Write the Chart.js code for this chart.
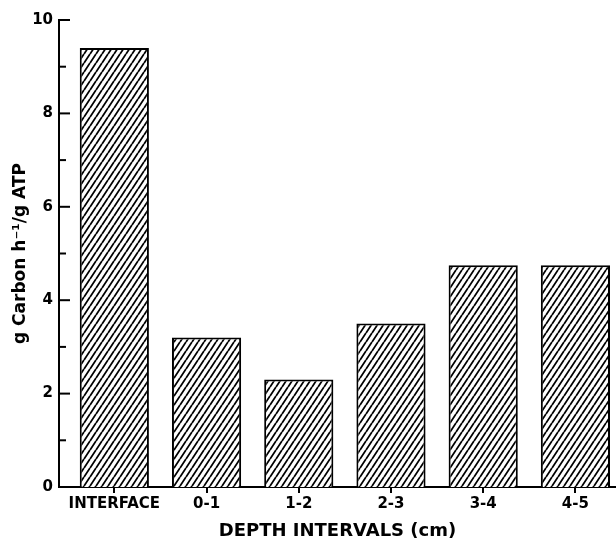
<!DOCTYPE html>
<html lang="en">
<head>
    <meta charset="UTF-8">
    <title>Carbon uptake by depth interval</title>
    <script src="https://cdn.jsdelivr.net/npm/chart.js"></script>
    <style>
        body { margin: 0; background: #fff; overflow: hidden; }
        #wrap { width: 616px; height: 542px; position: relative; }
    </style>
</head>
<body>
    <div id="wrap"><canvas id="barChart"></canvas></div>

    <script>
        // Data
        var categories = ["INTERFACE", "0-1", "1-2", "2-3", "3-4", "4-5"];
        var rates = [9.4, 3.2, 2.3, 3.5, 4.75, 4.75];
        var yMajorTicks = [0, 2, 4, 6, 8, 10];
        var yMinorTicks = [1, 3, 5, 7, 9];

        // Diagonal hatch pattern for the bars
        function makeHatch() {
            var w = 6, h = 9;
            var c = document.createElement('canvas');
            c.width = w; c.height = h;
            var g = c.getContext('2d');
            g.fillStyle = '#fff';
            g.fillRect(0, 0, w, h);
            g.strokeStyle = '#000';
            g.lineWidth = 1.8;
            g.beginPath();
            g.moveTo(-w, h); g.lineTo(0, 0);
            g.moveTo(0, h); g.lineTo(w, 0);
            g.moveTo(w, h); g.lineTo(2 * w, 0);
            g.stroke();
            return g.createPattern(c, 'repeat');
        }

        // y ticks point into the plot, majors longer than minors
        var innerTicks = {
            id: 'innerTicks',
            afterDraw: function(chart) {
                var ctx = chart.ctx, y = chart.scales.y, left = chart.chartArea.left;
                ctx.save();
                ctx.strokeStyle = '#000';
                ctx.lineWidth = 2;
                yMajorTicks.forEach(function(v) {
                    var p = y.getPixelForValue(v);
                    ctx.beginPath(); ctx.moveTo(left, p); ctx.lineTo(left + 11, p); ctx.stroke();
                });
                yMinorTicks.forEach(function(v) {
                    var p = y.getPixelForValue(v);
                    ctx.beginPath(); ctx.moveTo(left, p); ctx.lineTo(left + 7, p); ctx.stroke();
                });
                ctx.restore();
            }
        };

        Chart.defaults.font.family = "'DejaVu Sans', sans-serif";
        Chart.defaults.color = '#000';

        var ctx = document.getElementById('barChart').getContext('2d');
        var barChart = new Chart(ctx, {
            type: 'bar',
            data: {
                datasets: [{
                    data: rates.map(function(v, i) { return { x: i, y: v }; }),
                    backgroundColor: makeHatch(),
                    borderColor: '#000',
                    borderWidth: 2,
                    barPercentage: 0.75,
                    categoryPercentage: 1.0
                }]
            },
            options: {
                responsive: true,
                maintainAspectRatio: false,
                animation: false,
                layout: { padding: { top: 20, right: 0, left: 0, bottom: 0 } },
                plugins: { legend: { display: false }, tooltip: { enabled: false } },
                scales: {
                    x: {
                        type: 'linear',
                        min: -0.6,
                        max: 5.44,
                        offset: false,
                        afterBuildTicks: function(s) {
                            s.ticks = categories.map(function(_, i) { return { value: i }; });
                        },
                        afterFit: function(s) { s.height = 55; },
                        grid: { display: true, offset: false, drawOnChartArea: false, tickLength: 6, color: '#000', lineWidth: 2 },
                        border: { display: true, color: '#000', width: 2 },
                        ticks: {
                            autoSkip: false,
                            maxRotation: 0,
                            padding: 2,
                            font: { size: 15, weight: 'bold' },
                            callback: function(v) { return categories[v]; }
                        },
                        title: {
                            display: true,
                            text: 'DEPTH INTERVALS (cm)',
                            font: { size: 18, weight: 'bold' },
                            padding: { top: 2, bottom: 0 }
                        }
                    },
                    y: {
                        min: 0,
                        max: 10,
                        afterBuildTicks: function(s) {
                            s.ticks = yMajorTicks.map(function(v) { return { value: v }; });
                        },
                        afterFit: function(s) { s.width = 59; },
                        grid: { display: false, drawTicks: false },
                        border: { display: true, color: '#000', width: 2 },
                        ticks: {
                            padding: 6,
                            font: { size: 15, weight: 'bold' }
                        },
                        title: {
                            display: true,
                            text: 'g Carbon h\u207B\u00B9/g ATP',
                            font: { size: 17, weight: 'bold' },
                            padding: { top: 10, bottom: 4 }
                        }
                    }
                }
            },
            plugins: [innerTicks]
        });
    </script>
</body>
</html>
